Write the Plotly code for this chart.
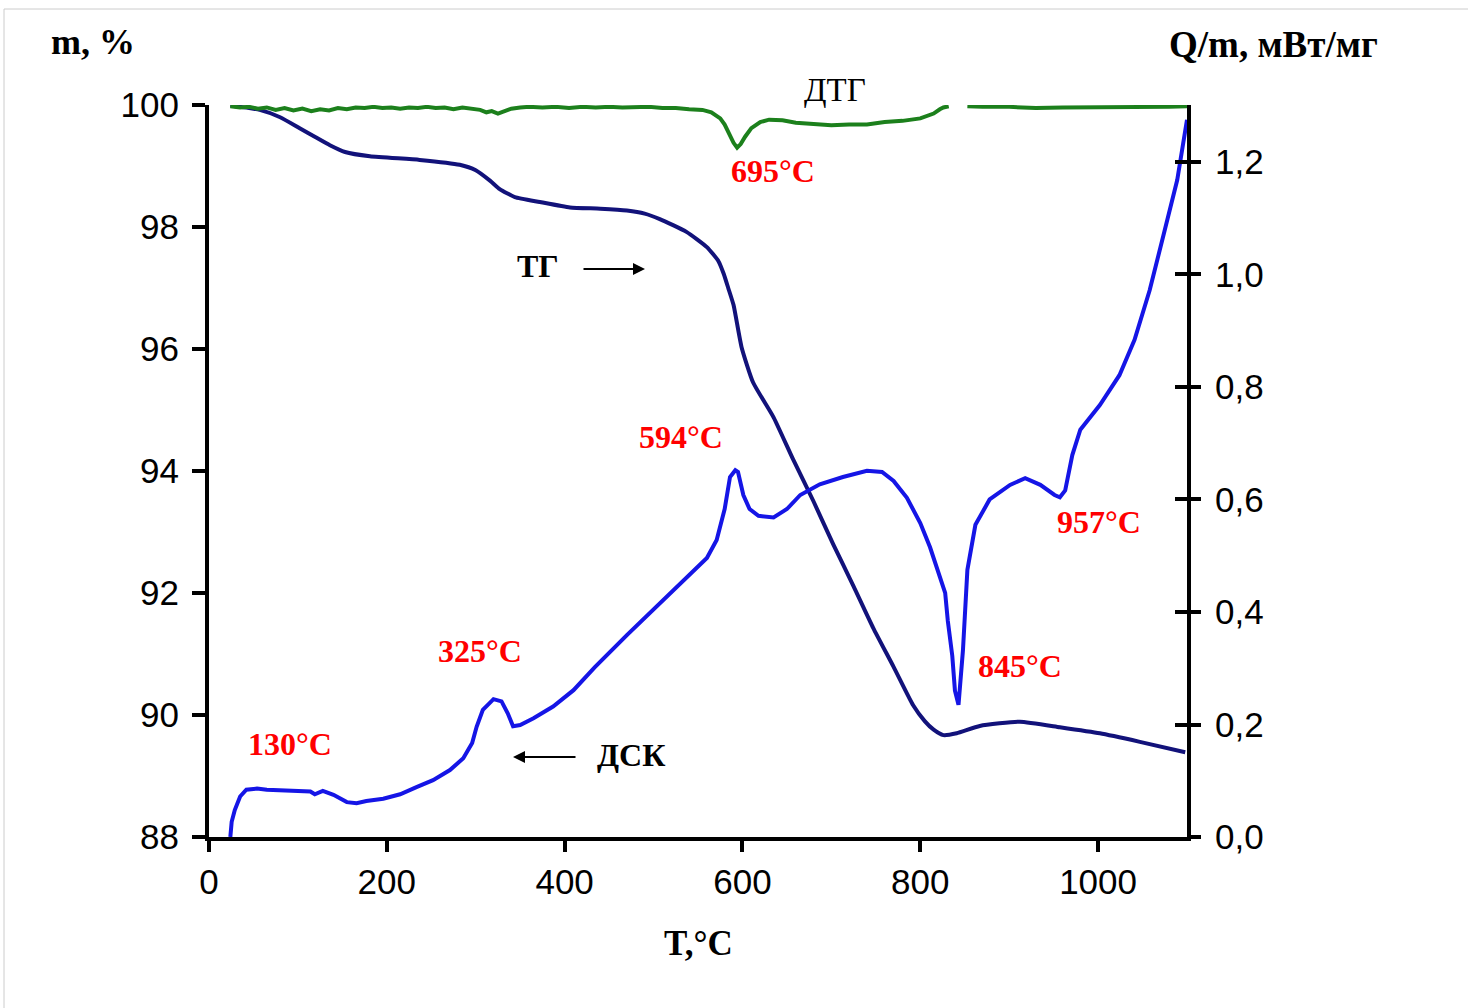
import plotly.graph_objects as go

# ---------------- data ----------------
tg_T = [24, 57, 80, 102, 120, 136, 153, 181, 237, 282, 300, 316, 327, 344, 372, 406, 440, 470, 490,
        507, 537, 560, 573, 579, 584, 590, 599, 612, 635, 657, 680, 702, 725, 747, 770, 792, 805,
        815, 826, 841, 867, 912, 957, 1002, 1047, 1098]
tg_m = [99.99, 99.92, 99.80, 99.62, 99.47, 99.34, 99.23, 99.16, 99.10, 99.02, 98.93, 98.76, 98.62,
        98.49, 98.41, 98.32, 98.30, 98.27, 98.22, 98.13, 97.92, 97.67, 97.44, 97.23, 97.00, 96.72,
        96.03, 95.45, 94.88, 94.19, 93.50, 92.80, 92.11, 91.43, 90.79, 90.16, 89.90, 89.76, 89.67,
        89.70, 89.82, 89.89, 89.80, 89.70, 89.56, 89.39]

dsc_T = [24, 25.5, 29, 35, 42, 54, 65, 114, 119, 128, 140, 155, 166, 177, 196, 215, 234, 252, 271,
         286, 296, 301, 308, 320, 329, 336, 342, 350, 365, 387, 410, 434, 470, 507, 545, 560, 571,
         575, 580, 586, 592, 595, 601, 608, 618, 635, 650, 665, 687, 713, 740, 757, 770, 785, 800,
         811, 819, 828, 831, 836, 839, 843, 848, 853, 862, 878, 901, 918, 935, 951, 957, 963, 971,
         980, 1002, 1024, 1041, 1058, 1075, 1089, 1100]
dsc_Q = [0.0, 0.027, 0.048, 0.072, 0.084, 0.086, 0.084, 0.081, 0.076, 0.082, 0.075, 0.062, 0.060,
         0.064, 0.068, 0.076, 0.089, 0.101, 0.119, 0.140, 0.167, 0.196, 0.226, 0.245, 0.241, 0.220,
         0.197, 0.199, 0.211, 0.232, 0.261, 0.302, 0.359, 0.415, 0.471, 0.496, 0.528, 0.553, 0.583,
         0.640, 0.652, 0.649, 0.608, 0.583, 0.571, 0.568, 0.583, 0.608, 0.627, 0.640, 0.651, 0.649,
         0.633, 0.603, 0.558, 0.515, 0.478, 0.434, 0.384, 0.322, 0.260, 0.235, 0.332, 0.475, 0.555,
         0.600, 0.626, 0.638, 0.626, 0.608, 0.604, 0.616, 0.679, 0.724, 0.768, 0.821, 0.884, 0.972,
         1.079, 1.168, 1.275]

dtg_T = [24, 35, 45, 55, 65, 75, 85, 95, 105, 115, 125, 135, 145, 155, 165, 175, 185, 195, 205, 215,
         225, 235, 245, 255, 265, 275, 285, 295, 305, 312, 318, 325, 332, 340, 350, 360, 375, 390,
         405, 420, 435, 450, 465, 480, 495, 510, 525, 540, 555, 565, 575, 580, 585, 590, 594, 598,
         603, 610, 620, 630, 645, 660, 680, 700, 720, 740, 760, 780, 800, 815, 822, 826, 832, 845,
         853, 870, 900, 930, 960, 990, 1020, 1050, 1080, 1100]
dtg_v = [0.0, -0.02, -0.01, -0.04, -0.02, -0.06, -0.03, -0.07, -0.04, -0.08, -0.05, -0.07, -0.03,
         -0.05, -0.02, -0.03, -0.01, -0.03, -0.02, -0.04, -0.02, -0.03, -0.01, -0.03, -0.02, -0.05,
         -0.02, -0.04, -0.06, -0.10, -0.08, -0.12, -0.09, -0.04, -0.02, -0.01, -0.02, -0.01, -0.03,
         -0.01, -0.02, -0.01, -0.02, -0.02, -0.01, -0.03, -0.03, -0.05, -0.06, -0.10, -0.20, -0.30,
         -0.45, -0.60, -0.68, -0.62, -0.50, -0.36, -0.26, -0.22, -0.23, -0.27, -0.29, -0.31, -0.30,
         -0.30, -0.26, -0.24, -0.20, -0.12, -0.05, -0.02, 0.0, None, 0.0, -0.01, -0.01, -0.03,
         -0.02, -0.02, -0.01, -0.02, -0.01, 0.0]

x_ticks = [0, 200, 400, 600, 800, 1000]
m_ticks = [88, 90, 92, 94, 96, 98, 100]
q_ticks = [0.0, 0.2, 0.4, 0.6, 0.8, 1.0, 1.2]
q_labels = ["0,0", "0,2", "0,4", "0,6", "0,8", "1,0", "1,2"]

peak_labels = ["695°C", "594°C", "325°C", "130°C", "845°C", "957°C"]

# ---------------- layout geometry ----------------
W, H = 1468, 1008
L, R, T, B = 209, 1187, 105, 837


def px(x):
    return (x - L) / (R - L)


def py(y):
    return (B - y) / (B - T)


TICKFONT = dict(family="Liberation Sans, Arial", size=35, color="black")
SERIF = "Liberation Serif, Times New Roman"

fig = go.Figure()

fig.add_trace(go.Scatter(x=dtg_T, y=dtg_v, mode="lines", yaxis="y3",
                         line=dict(color="#1c801c", width=4), connectgaps=False,
                         showlegend=False, hoverinfo="skip"))
fig.add_trace(go.Scatter(x=tg_T, y=tg_m, mode="lines", yaxis="y",
                         line=dict(color="#12127a", width=4, shape="spline", smoothing=0.5),
                         showlegend=False))
fig.add_trace(go.Scatter(x=dsc_T, y=dsc_Q, mode="lines", yaxis="y2",
                         line=dict(color="#1515e6", width=4), showlegend=False))

axis_common = dict(showline=True, linecolor="black", linewidth=4, showgrid=False,
                   zeroline=False, tickcolor="black", tickwidth=4, tickfont=TICKFONT)

fig.update_layout(
    width=W, height=H,
    margin=dict(l=L, r=W - R, t=T, b=H - B, pad=0),
    paper_bgcolor="white", plot_bgcolor="white",
    xaxis=dict(range=[0, 1100], tickvals=x_ticks, ticks="outside", ticklen=11,
               **axis_common),
    yaxis=dict(range=[88, 100], tickvals=m_ticks, ticks="outside", ticklen=13,
               ticklabelstandoff=6, **axis_common),
    yaxis2=dict(range=[0, 1.3013], overlaying="y", side="right", tickvals=q_ticks,
                ticktext=q_labels, ticks="outside", ticklen=10, ticklabelstandoff=7,
                **axis_common),
    yaxis4=dict(range=[0, 1.3013], overlaying="y", side="right", tickvals=q_ticks,
                showticklabels=False, ticks="inside", ticklen=12, showline=True,
                linecolor="black", linewidth=4, tickcolor="black", tickwidth=4,
                showgrid=False, zeroline=False),
    yaxis3=dict(range=[-11.98, 0.02], overlaying="y", visible=False),
)

# dummy trace to activate yaxis4
fig.add_trace(go.Scatter(x=[None], y=[None], yaxis="y4", showlegend=False, hoverinfo="skip"))

ann = []


def add_text(text, x, y, size, color="black", bold=True, family=SERIF):
    t = f"<b>{text}</b>" if bold else text
    ann.append(dict(text=t, x=px(x), y=py(y), xref="paper", yref="paper", showarrow=False,
                    font=dict(family=family, size=size, color=color),
                    xanchor="center", yanchor="middle"))


add_text("m, %", 93, 42, 36)
add_text("Q/m, мВт/мг", 1273, 45, 37)
add_text("T,°C", 698, 943, 35)
add_text("ДТГ", 835, 90, 33, bold=False)
add_text("ТГ", 538, 266, 32)
add_text("ДСК", 631, 755, 32)

red_pos = [(773, 171), (681, 437), (480, 651), (290, 744), (1020, 666), (1099, 522)]
for lab, (xx, yy) in zip(peak_labels, red_pos):
    add_text(lab, xx, yy, 32, color="#ff0000")

# arrows
ann.append(dict(x=px(645), y=py(269), xref="paper", yref="paper", ax=-63, ay=0,
                text="", showarrow=True, arrowhead=2, arrowsize=1.2, arrowwidth=2,
                arrowcolor="black"))
ann.append(dict(x=px(513), y=py(757), xref="paper", yref="paper", ax=64, ay=0,
                text="", showarrow=True, arrowhead=2, arrowsize=1.2, arrowwidth=2,
                arrowcolor="black"))

fig.update_layout(annotations=ann)

# light frame lines of the original picture
fig.add_shape(type="line", xref="paper", yref="paper", x0=px(4), x1=px(1468), y0=py(9), y1=py(9),
              line=dict(color="#cccccc", width=1))
fig.add_shape(type="line", xref="paper", yref="paper", x0=px(4), x1=px(4), y0=py(9), y1=py(1008),
              line=dict(color="#cccccc", width=1))

fig.write_html("out.html")
